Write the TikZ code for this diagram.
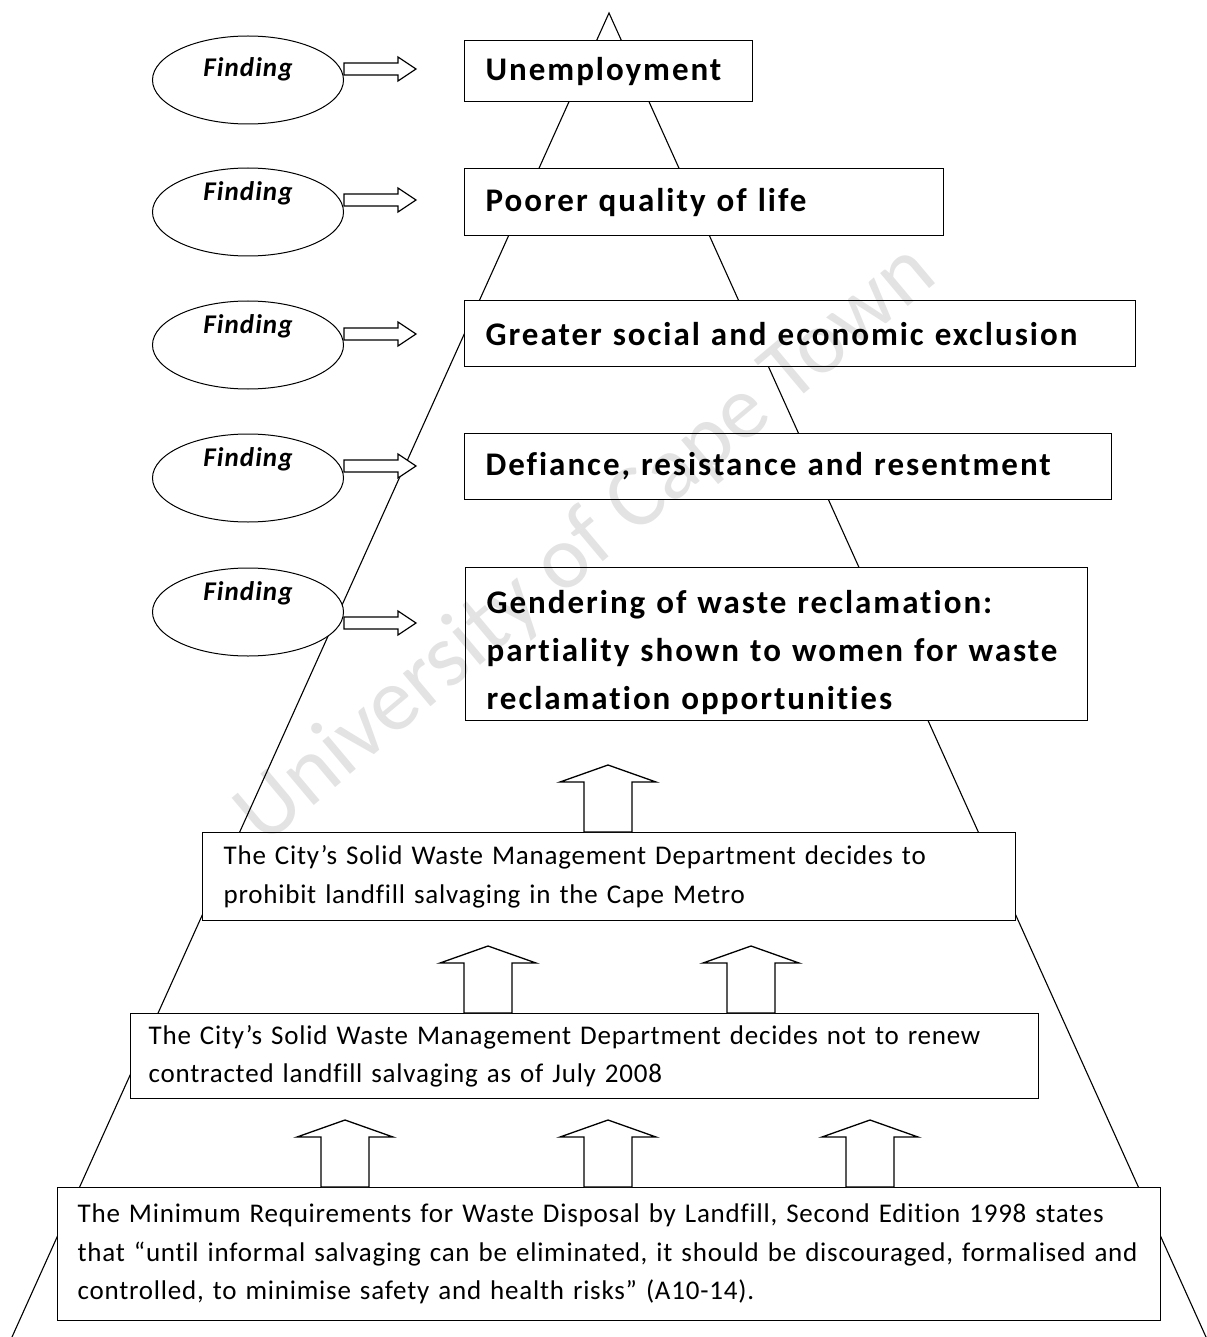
\documentclass[tikz,border=0pt]{standalone}
\usepackage{fontspec}
\setmainfont{Carlito}[Ligatures=CommonOff]
\newfontfamily\hdfont{Carlito}[LetterSpace=6, Ligatures=CommonOff]
\newfontfamily\smfont{Carlito}[LetterSpace=2.9, Ligatures=CommonOff]
\newfontfamily\fdfont{Carlito}[LetterSpace=4, Ligatures=CommonOff]
\usetikzlibrary{shapes.geometric}
\begin{document}
\begin{tikzpicture}[x=1pt,y=-1pt,
  hbox/.style={draw, line width=1.3pt, fill=white, anchor=north west, align=left, inner xsep=21pt, inner ysep=0pt, font=\hdfont\fontsize{33}{48}\selectfont\bfseries},
  sbox/.style={draw, line width=1.3pt, fill=white, anchor=north west, align=left, inner xsep=19pt, inner ysep=0pt, font=\smfont\fontsize{27}{38.5}\selectfont},
  finding/.style={draw, ellipse, line width=1pt, fill=white, minimum width=191pt, minimum height=88pt, inner sep=0pt},
  ftext/.style={font=\fdfont\fontsize{27}{27}\selectfont\bfseries\itshape},
  pyr/.style={line width=1.1pt},
  blk/.style={draw, line width=1.3pt, fill=white, line join=miter},
  uparr/.pic={\draw[blk] (-24,0) -- (-24,-50) -- (-48,-50) -- (0,-67) -- (48,-50) -- (24,-50) -- (24,0) -- cycle;},
  rarr/.pic={\draw[blk, line width=1.2pt] (0,-6) -- (54,-6) -- (54,-12) -- (72,0) -- (54,12) -- (54,6) -- (0,6) -- cycle;}
]
\useasboundingbox (0,0) rectangle (1206,1337);
\fill[white] (0,0) rectangle (1206,1337);

% pyramid outline
\coordinate (apex) at (609,13);
\coordinate (bl) at (12,1337);
\coordinate (br) at (1206,1337);
\draw[pyr] (bl) -- (apex) -- (br);

% findings
\node[finding, label={[ftext, yshift=11pt]center:Finding}] (f1) at (248,80) {};
\node[finding, label={[ftext, yshift=19pt]center:Finding}] (f2) at (248,212) {};
\node[finding, label={[ftext, yshift=19pt]center:Finding}] (f3) at (248,345) {};
\node[finding, label={[ftext, yshift=19pt]center:Finding}] (f4) at (248,478) {};
\node[finding, label={[ftext, yshift=19pt]center:Finding}] (f5) at (248,612) {};

\pic at (f1.east |- 0,69) {rarr};
\pic at (f2.east |- 0,200) {rarr};
\pic at (f3.east |- 0,334) {rarr};
\pic at (f4.east |- 0,466) {rarr};
\pic at (f5.east |- 0,623) {rarr};

% outcome boxes
\node[hbox, text width=246pt, minimum height=61pt] (b1) at (464,40) {\mbox{Unemployment}};
\node[hbox, text width=437pt, minimum height=67pt] (b2) at (464,168) {\mbox{Poorer quality of life}};
\node[hbox, text width=629pt, minimum height=66pt] (b3) at (464,300) {\mbox{Greater social and economic exclusion}};
\node[hbox, text width=605pt, minimum height=66pt] (b4) at (464,433) {\mbox{Defiance, resistance and resentment}};
\node[hbox, text width=580pt, minimum height=153pt] (b5) at (465,567) {\rule{0pt}{40pt}\mbox{Gendering of waste reclamation:}\\\mbox{partiality shown to women for waste}\\\mbox{reclamation opportunities}};

% decision boxes
\node[sbox, inner xsep=21pt, text width=771pt, minimum height=88pt] (b6) at (202,832) {\mbox{The City’s Solid Waste Management Department decides to}\\\mbox{prohibit landfill salvaging in the Cape Metro}};
\node[sbox, inner xsep=18pt, text width=872pt, minimum height=85pt] (b7) at (130,1013) {\mbox{The City’s Solid Waste Management Department decides not to renew}\\\mbox{contracted landfill salvaging as of July 2008}};
\node[sbox, inner xsep=20pt, text width=1063pt, minimum height=133pt] (b8) at (57,1187) {\mbox{The Minimum Requirements for Waste Disposal by Landfill, Second Edition 1998 states}\\\mbox{that “until informal salvaging can be eliminated, it should be discouraged, formalised and}\\\mbox{controlled, to minimise safety and health risks” (A10-14).}};

% block arrows
\pic at (b6.north -| 608,0) {uparr};
\pic at (b7.north -| 488,0) {uparr};
\pic at (b7.north -| 751,0) {uparr};
\pic at (b8.north -| 345,0) {uparr};
\pic at (b8.north -| 608,0) {uparr};
\pic at (b8.north -| 870,0) {uparr};

% watermark
\node[rotate=40, font=\fontsize{90}{90}\selectfont, text=black, text opacity=0.11] (wm) at (587,545) {University of Cape Town};
\end{tikzpicture}
\end{document}
